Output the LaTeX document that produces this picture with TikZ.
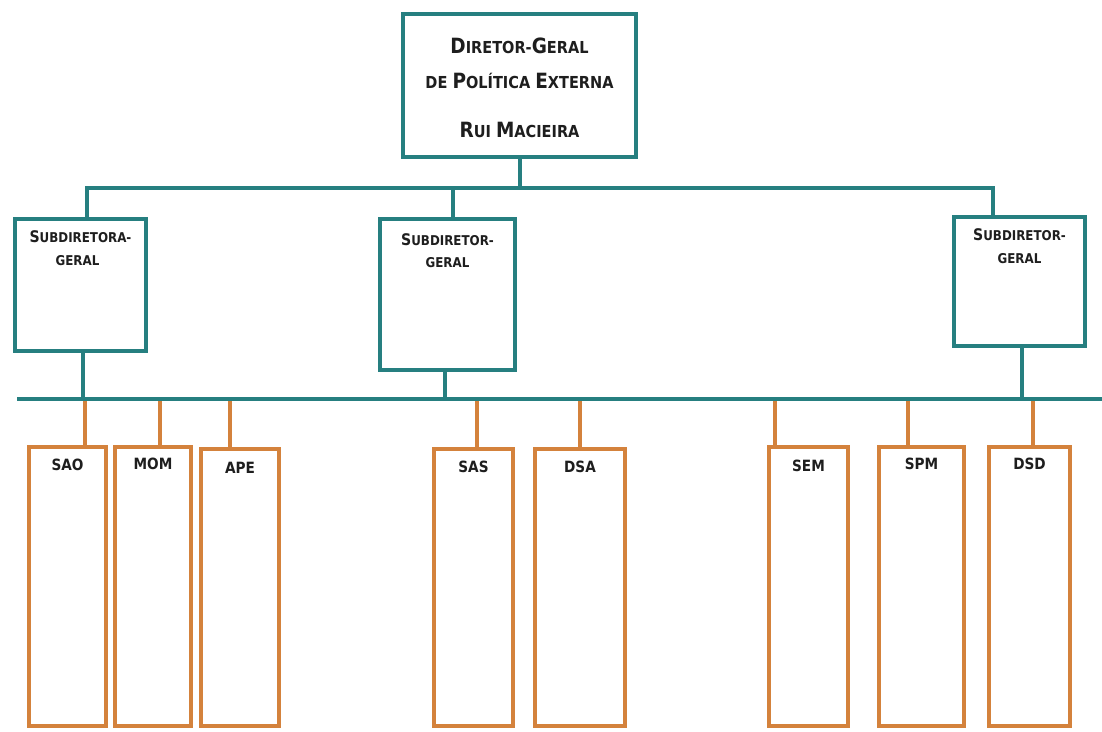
\documentclass[tikz,border=0pt]{standalone}
\usepackage{fontspec}
\usetikzlibrary{calc}
\newfontfamily\orgfont{DejaVu Sans}[FakeStretch=0.88]
\definecolor{tealc}{HTML}{267F80}
\definecolor{orangec}{HTML}{D4823C}
\definecolor{txt}{HTML}{1E1E1E}
\newcommand\topbig[1]{{\fontsize{21}{21}\selectfont #1}}
\newcommand\topsmall[1]{{\fontsize{16.5}{16.5}\selectfont #1}}
\newcommand\subbig[1]{{\fontsize{16}{16}\selectfont #1}}
\newcommand\subsmall[1]{{\fontsize{13.5}{13.5}\selectfont #1}}
\tikzset{
  tbox/.style={draw=tealc, line width=4.5pt, fill=white, rectangle, inner sep=0pt, outer sep=0pt},
  obox/.style={draw=orangec, line width=4pt, fill=white, rectangle, inner sep=0pt, outer sep=0pt, minimum height=279pt},
  tline/.style={draw=tealc, line width=4pt},
  oline/.style={draw=orangec, line width=4pt},
  lab/.style={anchor=base, inner sep=0pt, text=txt, font=\orgfont\bfseries},
  olab/.style={lab, font=\orgfont\bfseries\fontsize{15.5}{15.5}\selectfont},
}
\begin{document}
\begin{tikzpicture}[x=1pt,y=-1pt]
\useasboundingbox[fill=white] (0,0) rectangle (1102,731);
% buses
\coordinate (b1) at (87,188);
\coordinate (b2) at (453,188);
\coordinate (b3) at (993,188);
\coordinate (L0) at (17,399);
\coordinate (L1) at (1102,399);
% top box
\node[tbox, minimum width=233pt, minimum height=143pt] (top) at (519.5,85.5) {};
% sub boxes
\node[tbox, minimum width=131pt, minimum height=132pt] (s1) at (80.5,285) {};
\node[tbox, minimum width=135pt, minimum height=151pt] (s2) at (447.5,294.5) {};
\node[tbox, minimum width=131pt, minimum height=129pt] (s3) at (1019.5,281.5) {};
% teal connectors
\draw[tline] (top.south) -- (top.south |- b1);
\draw[tline] (s1.north -| b1) -- (b1) -- (b3) -- (s3.north -| b3);
\draw[tline] (b2) -- (s2.north -| b2);
\draw[tline] (L0) -- (L1);
\draw[tline] (s1.south -| 83,0) -- (83,399);
\draw[tline] (s2.south -| 445,0) -- (445,399);
\draw[tline] (s3.south -| 1022,0) -- (1022,399);
% orange boxes
\node[obox, minimum width=77pt] (sao) at (67.5,586.5) {};
\node[obox, minimum width=76pt] (mom) at (153,586.5) {};
\node[obox, minimum width=78pt, minimum height=277pt] (ape) at (240,587.5) {};
\node[obox, minimum width=79pt, minimum height=277pt] (sas) at (473.5,587.5) {};
\node[obox, minimum width=90pt, minimum height=277pt] (dsa) at (580,587.5) {};
\node[obox, minimum width=79pt] (sem) at (808.5,586.5) {};
\node[obox, minimum width=85pt] (spm) at (921.5,586.5) {};
\node[obox, minimum width=81pt] (dsd) at (1029.5,586.5) {};
% orange connectors
\foreach \b/\x in {sao/85, mom/160, ape/230, sas/477, dsa/580, sem/775, spm/908, dsd/1033}{
  \draw[oline] (\x,401) -- (\b.north -| \x,0);
}
% texts top
\node[lab] (t1) at ($(top.north)+(0,39)$) {\topbig{D}\topsmall{IRETOR-}\topbig{G}\topsmall{ERAL}};
\node[lab] (t2) at ($(top.north)+(0,74)$) {\fontsize{16.5}{16.5}\selectfont\topsmall{DE} \topbig{P}\topsmall{OLÍTICA} \topbig{E}\topsmall{XTERNA}};
\node[lab] (t3) at ($(top.north)+(0,123)$) {\fontsize{16.5}{16.5}\selectfont\topbig{R}\topsmall{UI} \topbig{M}\topsmall{ACIEIRA}};
% sub texts
\node[lab] (s1a) at ($(s1.north)+(0,23)$) {\subbig{S}\subsmall{UBDIRETORA-}};
\node[lab] (s1b) at ($(s1.north)+(-3,46)$) {\subsmall{GERAL}};
\node[lab] (s2a) at ($(s2.north)+(0,26)$) {\subbig{S}\subsmall{UBDIRETOR-}};
\node[lab] (s2b) at ($(s2.north)+(0,48)$) {\subsmall{GERAL}};
\node[lab] (s3a) at ($(s3.north)+(0,23)$) {\subbig{S}\subsmall{UBDIRETOR-}};
\node[lab] (s3b) at ($(s3.north)+(0,46)$) {\subsmall{GERAL}};
% orange labels
\node[olab] at ($(sao.north)+(0,23)$) {SAO};
\node[olab] at ($(mom.north)+(0,22)$) {MOM};
\node[olab] at ($(ape.north)+(0,24)$) {APE};
\node[olab] at ($(sas.north)+(0,23)$) {SAS};
\node[olab] at ($(dsa.north)+(0,23)$) {DSA};
\node[olab] at ($(sem.north)+(0,24)$) {SEM};
\node[olab] at ($(spm.north)+(0,22)$) {SPM};
\node[olab] at ($(dsd.north)+(0,22)$) {DSD};
\end{tikzpicture}
\end{document}
